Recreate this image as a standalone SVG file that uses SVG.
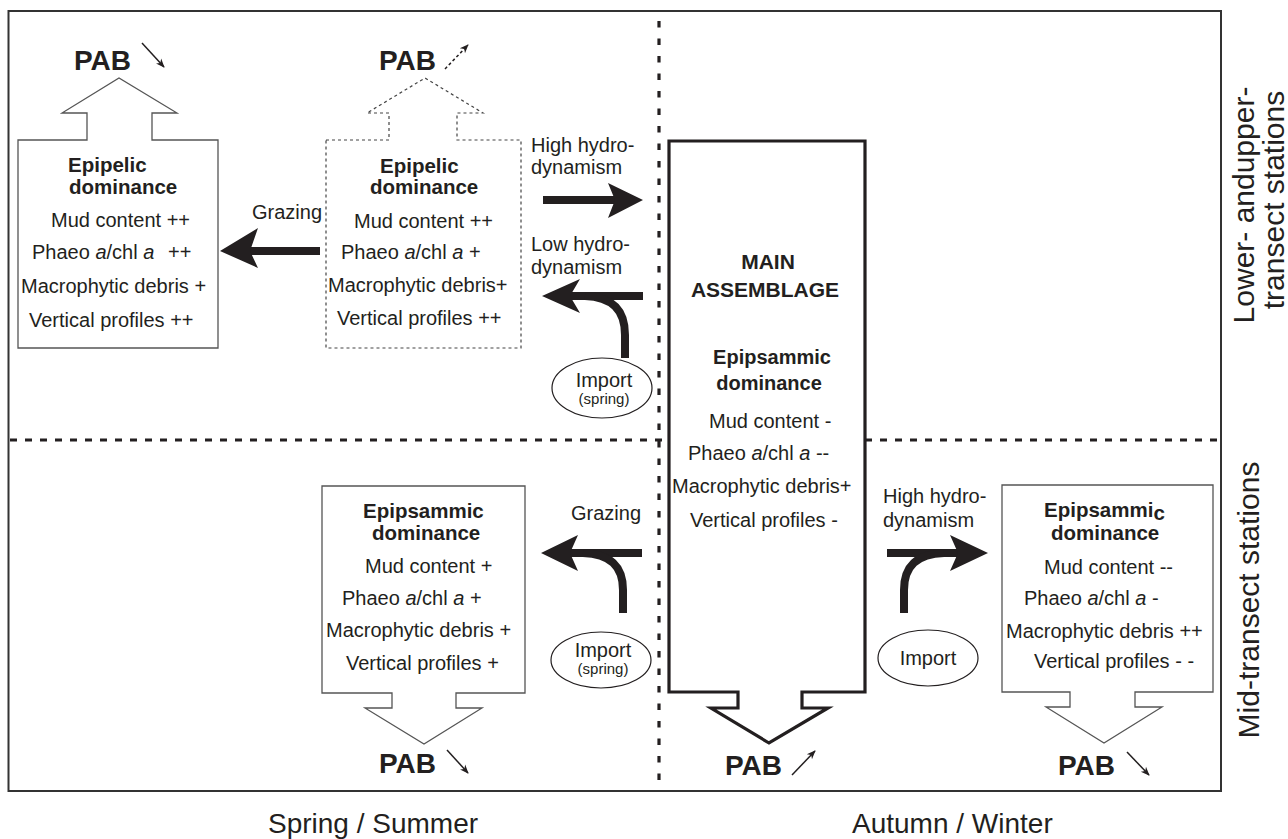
<svg xmlns="http://www.w3.org/2000/svg" width="1288" height="839" viewBox="0 0 1288 839">
<defs>
<marker id="sm" viewBox="0 0 10 10" refX="9" refY="5" markerWidth="9" markerHeight="9" markerUnits="userSpaceOnUse" orient="auto">
<path d="M0,1 L10,5 L0,9 L3,5 Z" fill="#231f20"/>
</marker>
</defs>
<style>
text{font-family:"Liberation Sans",Arial,sans-serif;fill:#231f20}
.b{font-weight:bold;font-size:20.5px}
.r{font-size:20px}
.pab{font-weight:bold;font-size:28px}
.big{font-size:28px}
.rot{font-size:30px}
.sp{font-size:15px}
.box{fill:#fff;stroke:#555;stroke-width:1.3}
.dbox{fill:#fff;stroke:#444;stroke-width:1.2;stroke-dasharray:3 3}
.main{fill:#fff;stroke:#231f20;stroke-width:3.2}
.shaft{fill:none;stroke:#231f20;stroke-width:8}
.head{fill:#231f20}
.thin{fill:none;stroke:#231f20;stroke-width:1.5}
.ell{fill:#fff;stroke:#231f20;stroke-width:1.2}
</style>
<rect x="0" y="0" width="1288" height="839" fill="#fff"/>
<g id="frame">
<rect x="8.5" y="11" width="1212.5" height="780" fill="none" stroke="#333" stroke-width="2"/>
<line x1="10" y1="440" x2="1220" y2="440" stroke="#231f20" stroke-width="3" stroke-dasharray="7 8"/>
<line x1="659" y1="21" x2="659" y2="790" stroke="#231f20" stroke-width="3.2" stroke-dasharray="6.5 11"/>
</g>
<g id="node-topleft">
<polygon class="box" points="18,140 87,140 87,113 62,113 119,78 177,113 152,113 152,140 218,140 218,348 18,348"/>
<text class="pab" x="74" y="70">PAB</text>
<text class="b" x="68" y="172">Epipelic</text>
<text class="b" x="69" y="194">dominance</text>
<text class="r" x="51" y="227">Mud content ++</text>
<text class="r" x="32" y="259">Phaeo <tspan font-style="italic">a</tspan>/chl <tspan font-style="italic">a</tspan><tspan x="168">++</tspan></text>
<text class="r" x="21" y="293">Macrophytic debris +</text>
<text class="r" x="29" y="327">Vertical profiles ++</text>
</g>
<g id="node-topmiddle">
<polygon class="dbox" points="326,140 389,140 389,113 367,113 425,78 483,113 457,113 457,140 521,140 521,348 326,348"/>
<text class="pab" x="379" y="70">PAB</text>
<text class="b" x="380" y="173">Epipelic</text>
<text class="b" x="370" y="194">dominance</text>
<text class="r" x="354" y="228">Mud content ++</text>
<text class="r" x="341" y="259">Phaeo <tspan font-style="italic">a</tspan>/chl <tspan font-style="italic">a</tspan> +</text>
<text class="r" x="328" y="292">Macrophytic debris+</text>
<text class="r" x="337" y="325">Vertical profiles ++</text>
</g>
<g id="node-main">
<polygon class="main" points="669,141 865,141 865,692 802,692 802,708 828,708 769,743 711,708 738,708 738,692 669,692"/>
<text class="pab" x="725" y="775">PAB</text>
<text x="768" y="269" text-anchor="middle" style="font-weight:bold;font-size:21px">MAIN</text>
<text x="765" y="297" text-anchor="middle" style="font-weight:bold;font-size:21px">ASSEMBLAGE</text>
<text class="b" x="772" y="364" text-anchor="middle" style="font-size:20px">Epipsammic</text>
<text class="b" x="769" y="390" text-anchor="middle" style="font-size:20px">dominance</text>
<text class="r" x="709" y="428">Mud content -</text>
<text class="r" x="688" y="460">Phaeo <tspan font-style="italic">a</tspan>/chl <tspan font-style="italic">a</tspan> --</text>
<text class="r" x="672" y="493">Macrophytic debris+</text>
<text class="r" x="690" y="527">Vertical profiles -</text>
</g>
<g id="node-bottomleft">
<polygon class="box" points="322,486 525,486 525,693 456,693 456,708 482,708 424,744 365,708 392,708 392,693 322,693"/>
<text class="pab" x="379" y="773">PAB</text>
<text class="b" x="363" y="518">Epipsammic</text>
<text class="b" x="372" y="540">dominance</text>
<text class="r" x="365" y="573">Mud content +</text>
<text class="r" x="342" y="605">Phaeo <tspan font-style="italic">a</tspan>/chl <tspan font-style="italic">a</tspan> +</text>
<text class="r" x="326" y="637">Macrophytic debris +</text>
<text class="r" x="346" y="670">Vertical profiles +</text>
</g>
<g id="node-bottomright">
<polygon class="box" points="1002,485 1213,485 1213,692 1135,692 1135,707 1162,707 1104,743 1046,707 1070,707 1070,692 1002,692"/>
<text class="pab" x="1058" y="775">PAB</text>
<text class="b" x="1044" y="517">Epipsammi<tspan dy="3">c</tspan></text>
<text class="b" x="1051" y="540">dominance</text>
<text class="r" x="1044" y="574">Mud content --</text>
<text class="r" x="1024" y="605">Phaeo <tspan font-style="italic">a</tspan>/chl <tspan font-style="italic">a</tspan> -</text>
<text class="r" x="1006" y="638">Macrophytic debris ++</text>
<text class="r" x="1034" y="668">Vertical profiles - -</text>
</g>
<g id="node-import1">
<ellipse class="ell" cx="602" cy="388" rx="50" ry="30"/>
<text class="r" x="604" y="387" text-anchor="middle">Import</text>
<text class="sp" x="604" y="404" text-anchor="middle">(spring)</text>
</g>
<g id="node-import2">
<ellipse class="ell" cx="601" cy="660" rx="50" ry="28"/>
<text class="r" x="603" y="657" text-anchor="middle">Import</text>
<text class="sp" x="603" y="674" text-anchor="middle">(spring)</text>
</g>
<g id="node-import3">
<ellipse class="ell" cx="928" cy="658" rx="50" ry="28"/>
<text class="r" x="928" y="665" text-anchor="middle">Import</text>
</g>
<g id="connectors">
<line class="thin" x1="142" y1="43" x2="164" y2="67" marker-end="url(#sm)"/>
<line class="thin" x1="445" y1="69" x2="468" y2="45" stroke-dasharray="3 2.5" marker-end="url(#sm)"/>
<line class="thin" x1="447" y1="750" x2="468" y2="773" marker-end="url(#sm)"/>
<line class="thin" x1="792" y1="775" x2="815" y2="751" marker-end="url(#sm)"/>
<line class="thin" x1="1127" y1="752" x2="1149" y2="775" marker-end="url(#sm)"/>
<line class="shaft" x1="320" y1="251" x2="250" y2="251"/>
<polygon class="head" points="220,251 258,228 250,251 258,268"/>
<line class="shaft" x1="543" y1="200" x2="615" y2="200"/>
<polygon class="head" points="643,200 608,183 615,200 608,218"/>
<line class="shaft" x1="643" y1="296" x2="570" y2="296"/>
<path class="shaft" d="M625,358 L625,335 C625,310 612,297 585,296"/>
<polygon class="head" points="542,296 580,279 570,296 580,313"/>
<line class="shaft" x1="642" y1="553" x2="570" y2="553"/>
<path class="shaft" d="M623,613 L623,590 C623,566 610,554 583,553"/>
<polygon class="head" points="541,553 578,535 570,553 578,571"/>
<line class="shaft" x1="887" y1="553" x2="958" y2="553"/>
<path class="shaft" d="M904,613 L904,590 C904,566 917,554 944,553"/>
<polygon class="head" points="988,553 950,535 958,553 950,571"/>
</g>
<g id="labels">
<text class="r" x="252" y="219">Grazing</text>
<text class="r" x="531" y="152">High hydro-</text>
<text class="r" x="531" y="174">dynamism</text>
<text class="r" x="531" y="251">Low hydro-</text>
<text class="r" x="531" y="274">dynamism</text>
<text class="r" x="571" y="520">Grazing</text>
<text class="r" x="883" y="503">High hydro-</text>
<text class="r" x="883" y="527">dynamism</text>
<text class="big" x="268" y="833">Spring / Summer</text>
<text class="big" x="852" y="833">Autumn / Winter</text>
<text class="rot" transform="translate(1254,205) rotate(-90)" text-anchor="middle">Lower- andupper-</text>
<text class="rot" transform="translate(1284,200) rotate(-90)" text-anchor="middle">transect stations</text>
<text class="rot" transform="translate(1259,600) rotate(-90)" text-anchor="middle">Mid-transect stations</text>
</g>
</svg>
